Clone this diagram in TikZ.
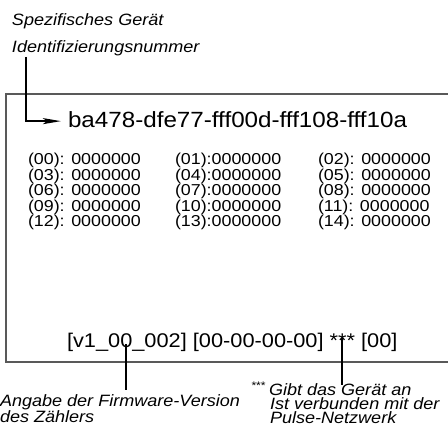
\documentclass[tikz,border=0pt]{standalone}
\usepackage{fontspec}
\setmainfont{Liberation Sans}[FakeStretch=1.1]
\newfontfamily\gridfont{Liberation Sans}[FakeStretch=1.13]
\usetikzlibrary{arrows.meta}
\begin{document}
\begin{tikzpicture}[x=1pt,y=-1pt,
  txt/.style={anchor=base west,inner sep=0pt,outer sep=0pt},
  note/.style={txt,align=left,font=\fontsize{16.4}{14}\selectfont\itshape},
  grid/.style={txt,font=\gridfont\fontsize{15.8}{16}\selectfont},
  lead/.style={line width=2.2pt,black},
  frame/.style={draw=black!65,line width=1.1pt}]
\useasboundingbox (0,0) rectangle (448,430);
\clip (0,0) rectangle (448,430);
\fill[white] (0,0) rectangle (448,430);
% frame
\draw[frame] (6,94) rectangle (470,362);
% header notes
\node[note] (n1) at (12,26) {Spezifisches Gerät};
\node[note] (n2) at (12,53) {Identifizierungsnummer};
% id
\node[txt,font=\fontsize{22}{22}\selectfont] (id) at (68,128) {ba478-dfe77-fff00d-fff108-fff10a};
\coordinate (a1) at (26,57);
\draw[lead,-{Stealth[length=18pt,width=6pt,inset=4pt]}] (a1) |- ([xshift=-7pt,yshift=-1pt]id.west);
% grid
\foreach \r/\a/\b/\c in {0/00/01/02,1/03/04/05,2/06/07/08,3/09/10/11,4/12/13/14}{
  \node[grid] (g\r a) at (28,{165+15.4*\r}) {(\a): 0000000};
  \node[grid] (g\r b) at (175,{165+15.4*\r}) {(\b):0000000};
  \node[grid] (g\r c) at (318,{165+15.4*\r}) {(\c): 0000000};
}
% bottom line
\node[txt,font=\fontsize{19.8}{20}\selectfont] (fw) at (67,348) {[v1\_00\_002] [00-00-00-00] *** [00]};
\coordinate (f1) at (126,344);
\coordinate (f2) at (126,390);
\coordinate (s1) at (342,338);
\coordinate (s2) at (342,385);
\draw[lead] (f1) -- (f2);
\draw[lead] (s1) -- (s2);
% bottom notes
\node[note] (b1) at (0,423) {Angabe der Firmware-Version\\des Zählers};
\node[txt,font=\fontsize{11}{11}\selectfont\itshape] (st) at (251,390) {***};
\node[note] (c1) at (269,424) {Gibt das Gerät an\\\hspace*{1pt}Ist verbunden mit der\\\hspace*{1pt}Pulse-Netzwerk};
\end{tikzpicture}
\end{document}
